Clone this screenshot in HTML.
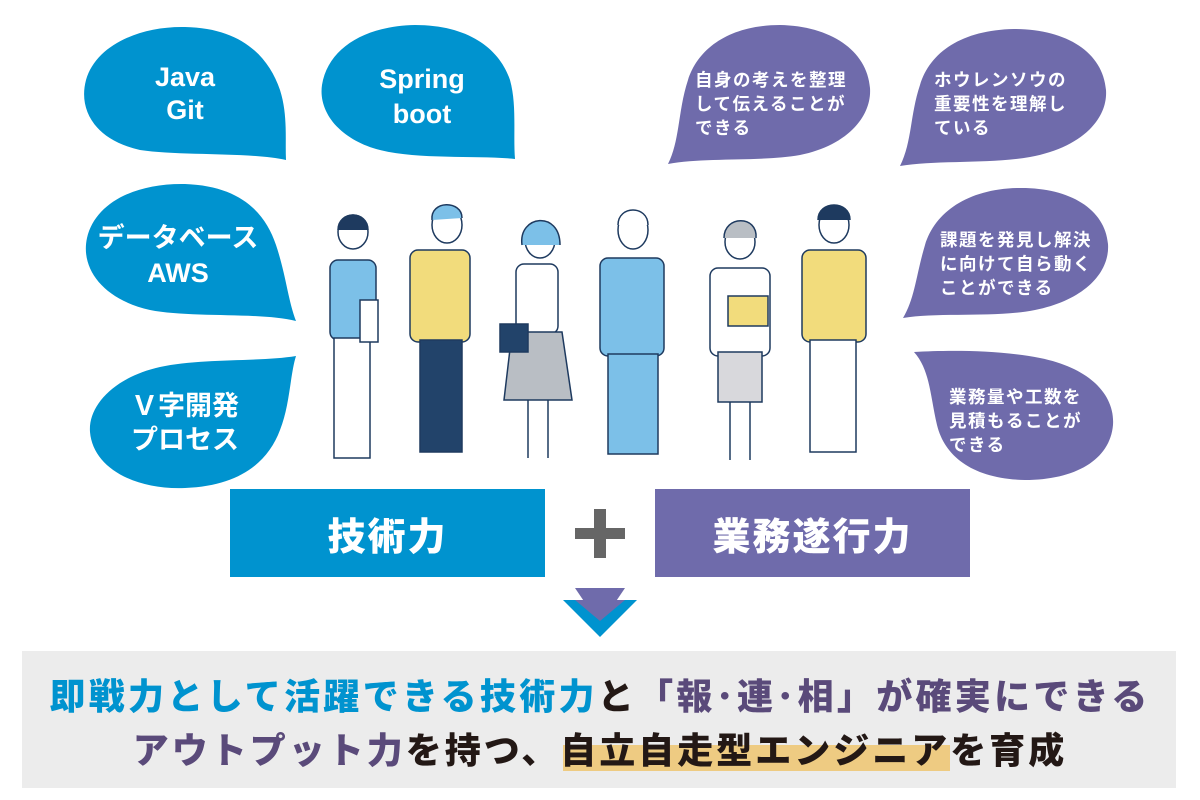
<!DOCTYPE html>
<html><head><meta charset="utf-8"><style>
html,body{margin:0;padding:0;background:#fff;width:1200px;height:800px;overflow:hidden}
svg{position:absolute;left:0;top:0}
.w{font-family:"Liberation Sans","Noto Sans CJK JP",sans-serif;font-weight:bold;fill:#fff}
.b{position:absolute;font-family:"Liberation Sans","Noto Sans CJK JP",sans-serif;font-weight:900;color:#fff;display:flex;align-items:center;justify-content:center;font-size:38px;letter-spacing:2px}
.line{position:absolute;left:0;width:1200px;text-align:center;font-family:"Noto Sans CJK JP",sans-serif;font-weight:900;font-size:36px;white-space:nowrap;line-height:44px}
</style></head><body>
<svg width="1200" height="800" viewBox="0 0 1200 800">
<path d="M286,160 C250,152 180,156 140,150 C95,140 78,110 86,80 C96,45 140,26 185,27 C240,28 268,55 280,90 C288,115 285,140 286,160 Z" fill="#0093cf"/>
<path d="M515,159 C480,155 420,160 380,150 C340,140 318,112 322,85 C328,48 365,26 415,25 C470,25 500,50 510,80 C517,105 513,135 515,159 Z" fill="#0093cf"/>
<path d="M296,321 C260,312 190,318 150,310 C105,300 80,270 87,238 C95,203 135,183 185,184 C240,186 265,212 276,245 C286,275 288,300 296,321 Z" fill="#0093cf"/>
<path d="M296,356 C260,362 200,358 160,367 C115,377 88,405 90,432 C93,468 135,490 185,488 C240,486 268,462 280,430 C290,405 290,375 296,356 Z" fill="#0093cf"/>
<path d="M668,164 C705,157 760,162 800,155 C845,146 872,118 870,88 C867,50 830,26 780,25 C730,25 698,48 688,80 C678,110 680,140 668,164 Z" fill="#6f6bab"/>
<path d="M900,166 C935,160 990,164 1030,157 C1080,148 1108,120 1106,90 C1103,52 1066,29 1014,29 C962,30 930,52 920,85 C910,115 912,142 900,166 Z" fill="#6f6bab"/>
<path d="M903,318 C940,312 995,318 1035,310 C1085,300 1110,272 1108,244 C1105,208 1068,187 1018,188 C968,189 935,212 925,245 C916,275 915,298 903,318 Z" fill="#6f6bab"/>
<path d="M914,352 C950,350 1000,350 1040,358 C1090,368 1115,395 1113,425 C1110,460 1075,480 1025,480 C975,479 945,458 937,425 C930,395 930,370 914,352 Z" fill="#6f6bab"/>
<g class="w" text-anchor="middle" font-size="27">
<text x="185" y="86">Java</text><text x="185" y="119">Git</text>
<text x="422" y="88">Spring</text><text x="422" y="123">boot</text>
<text x="178" y="247">データベース</text><text x="178" y="282">AWS</text>
<text x="185" y="415">Ｖ字開発</text><text x="185" y="449">プロセス</text>
</g>
<g class="w" font-size="17.5" letter-spacing="1.5">
<text x="695" y="86">自身の考えを整理</text><text x="695" y="110">して伝えることが</text><text x="695" y="134">できる</text>
<text x="934" y="86">ホウレンソウの</text><text x="934" y="110">重要性を理解し</text><text x="934" y="134">ている</text>
<text x="940" y="246">課題を発見し解決</text><text x="940" y="270">に向けて自ら動く</text><text x="940" y="294">ことができる</text>
<text x="949" y="403">業務量や工数を</text><text x="949" y="427">見積もることが</text><text x="949" y="451">できる</text>
</g>
<g stroke="#1e3a5f" stroke-width="1.5">
<rect x="330" y="260" width="46" height="80" rx="8" fill="#7cc0e8"/>
<rect x="334" y="338" width="36" height="120" fill="#fff"/>
<ellipse cx="353" cy="232" rx="15" ry="17" fill="#fff"/>
<path d="M338,230 C338,210 368,210 368,230" fill="#1e3a5f"/>
<rect x="360" y="300" width="18" height="42" fill="#fff"/>
<rect x="410" y="250" width="60" height="92" rx="8" fill="#f2dc7c"/>
<rect x="420" y="340" width="42" height="112" fill="#22436a"/>
<ellipse cx="447" cy="225" rx="15" ry="18" fill="#fff"/>
<path d="M432,220 C430,200 462,200 462,218" fill="#7cc0e8"/>
<rect x="516" y="264" width="42" height="70" rx="8" fill="#fff"/>
<path d="M512,332 L562,332 L572,400 L504,400 Z" fill="#b9bec4"/>
<rect x="500" y="324" width="28" height="28" fill="#22436a"/>
<ellipse cx="540" cy="240" rx="15" ry="18" fill="#fff"/>
<path d="M522,245 C518,215 560,210 560,245" fill="#7cc0e8"/>
<line x1="528" y1="400" x2="528" y2="458"/><line x1="548" y1="400" x2="548" y2="458"/>
<rect x="600" y="258" width="64" height="98" rx="8" fill="#7cc0e8"/>
<rect x="608" y="354" width="50" height="100" fill="#7cc0e8"/>
<ellipse cx="633" cy="230" rx="15" ry="19" fill="#fff"/>
<path d="M618,225 C618,205 648,205 648,225" fill="#fff"/>
<rect x="710" y="268" width="60" height="88" rx="8" fill="#fff"/>
<rect x="718" y="352" width="44" height="50" fill="#d8d8dc"/>
<rect x="728" y="296" width="40" height="30" fill="#f2dc7c"/>
<ellipse cx="740" cy="242" rx="15" ry="17" fill="#fff"/>
<path d="M724,238 C724,215 758,215 756,238" fill="#b9bec4"/>
<line x1="730" y1="402" x2="730" y2="460"/><line x1="750" y1="402" x2="750" y2="460"/>
<rect x="802" y="250" width="64" height="92" rx="8" fill="#f2dc7c"/>
<rect x="810" y="340" width="46" height="112" fill="#fff"/>
<ellipse cx="834" cy="225" rx="15" ry="18" fill="#fff"/>
<path d="M818,220 C818,200 850,200 850,220" fill="#1e3a5f"/>
</g>
<polygon points="575,588 625,588 600,625" fill="#6f6bab"/>
<polygon points="563,600 637,600 600,637" fill="#0093cf"/>
<polygon points="575,600 625,600 600,621" fill="#6f6bab"/>
<rect x="575" y="528" width="50" height="11" fill="#666"/>
<rect x="594" y="509" width="12" height="49" fill="#666"/>
<rect x="22" y="651" width="1154" height="137" fill="#ececec"/>
<rect x="563" y="745" width="387" height="26" fill="#eecb82"/>
</svg>
<div class="b" style="left:230px;top:489px;width:315px;height:88px;background:#0093cf">技術力</div>
<div class="b" style="left:655px;top:489px;width:315px;height:88px;background:#6f6bab">業務遂行力</div>
<div class="line" style="top:672px;letter-spacing:3.3px"><span style="color:#0093cf">即戦力として活躍できる技術力</span><span style="color:#231815">と</span><span style="color:#5a4a7a">「報･連･相」が確実にできる</span></div>
<div class="line" style="top:726px;letter-spacing:3px"><span style="color:#5a4a7a">アウトプット力</span><span style="color:#231815">を持つ、自立自走型エンジニアを育成</span></div>
</body></html>
